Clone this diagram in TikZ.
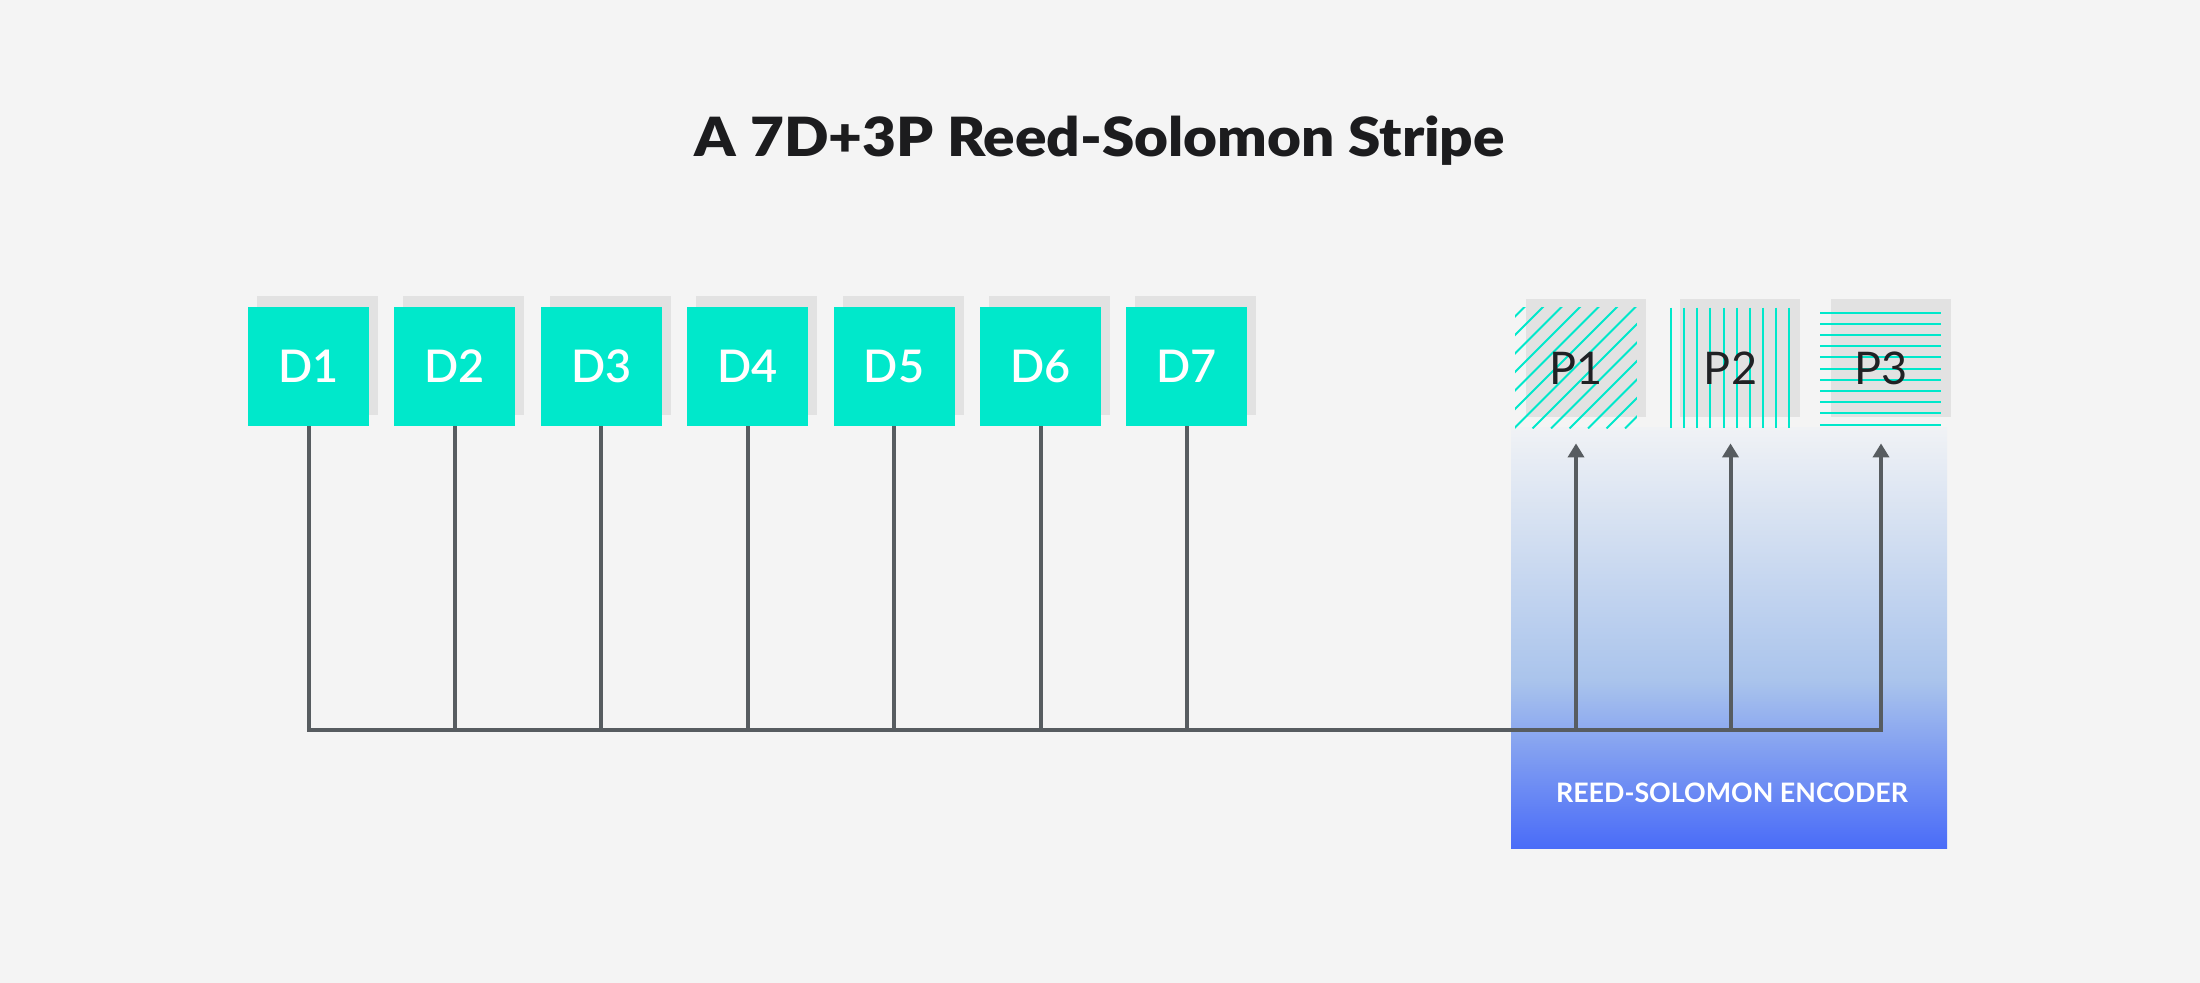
\documentclass[tikz,border=0pt]{standalone}
\usepackage{fontspec}
\setmainfont{Lato}
\IfFontExistsTF{Lato Semibold}{\newfontfamily\medfont{Lato Semibold}}{\newfontfamily\medfont{Lato}[FakeBold=1.5]}
\IfFontExistsTF{Lato Black}{\newfontfamily\heavyfont{Lato Black}}{\newfontfamily\heavyfont{Lato}[FakeBold=2]}
\usetikzlibrary{arrows.meta,calc}
\definecolor{bgc}{HTML}{F4F4F4}
\definecolor{tealc}{HTML}{00E8CB}
\definecolor{shadowc}{HTML}{E2E2E2}
\definecolor{wirec}{HTML}{575C60}
\definecolor{enctop}{HTML}{F0F2F5}
\definecolor{encmid}{HTML}{AAC4EC}
\definecolor{encbot}{HTML}{4A6CF8}
\definecolor{titlec}{HTML}{1C1C1E}
\definecolor{ptext}{HTML}{202124}
\pgfdeclareverticalshading{encshade}{100bp}{color(0bp)=(encbot); color(25bp)=(encbot); color(45bp)=(encmid); color(75bp)=(enctop); color(100bp)=(enctop)}
\begin{document}
\begin{tikzpicture}[x=0.5pt,y=-0.5pt,
  dbox/.style={fill=tealc, minimum width=60.5pt, minimum height=59.5pt, inner sep=0pt, text=white, font=\medfont\fontsize{22.5}{24}\selectfont},
  pbox/.style={minimum width=60.5pt, minimum height=60pt, inner sep=0pt, text=ptext, font=\fontsize{22.5}{24}\selectfont},
  wire/.style={draw=wirec, line width=2pt},
  hatch/.style={draw=tealc, line width=1pt},
  arr/.style={-{Triangle[width=8pt,length=7pt]}, shorten >=7.5pt}]
\useasboundingbox (0,0) rectangle (2200,983);
\fill[bgc] (0,0) rectangle (2200,983);
% title
\node[anchor=base, text=titlec, inner sep=0pt, font=\heavyfont\fontsize{27}{30}\selectfont] (title) at (1100,157) {\resizebox{405pt}{\height}{A 7D+3P Reed-Solomon Stripe}};
% encoder block
\node[shading=encshade, minimum width=218pt, minimum height=210pt, inner sep=0pt] (enc) at (1729,638) {};
\node[text=white, font=\bfseries\fontsize{13.4}{16}\selectfont] (enclabel) at (1732,793) {REED-SOLOMON ENCODER};
% data boxes
\foreach \i in {1,...,7}{
  \pgfmathsetmacro{\cx}{308.5+146.4*(\i-1)}
  \fill[shadowc] (\cx-51.5,296) rectangle (\cx+69.5,415);
  \node[dbox] (d\i) at (\cx,366.5) {D\i};
}
% parity boxes
\foreach \i/\cx in {1/1576,2/1730.5,3/1881}{
  \fill[shadowc] (\cx-50.5,299) rectangle (\cx+69.5,417);
  \node[pbox] (p\i) at (\cx,368) {};
}
% hatches
\begin{scope}
  \clip (p1.north west) rectangle (p1.south east);
  \foreach \c in {-112,-93.5,...,125}{
    \draw[hatch] ($(p1.south west)+(\c,0)$) -- ++(130,-130);
  }
\end{scope}
\foreach \k in {0,...,9}{
  \draw[hatch] ($(p2.north west)+(1.5+13.1*\k,0)$) -- ++(0,120);
}
\foreach \k in {0,...,10}{
  \draw[hatch] ($(p3.north west)+(0,5+11.2*\k)$) -- ++(121,0);
}
% parity labels
\foreach \i in {1,2,3}{
  \node[pbox] at (p\i) {P\i};
}
% wires
\coordinate (bus) at (1000,729.5);
\foreach \i in {2,...,7}{
  \draw[wire] (d\i.south) -- (d\i |- bus);
}
\draw[wire, line join=miter, arr] (d1.south) -- (d1 |- bus) -- (p3 |- bus) -- (p3.south);
\draw[wire, arr] (p1 |- bus) -- (p1.south);
\draw[wire, arr] (p2 |- bus) -- (p2.south);
\end{tikzpicture}
\end{document}
